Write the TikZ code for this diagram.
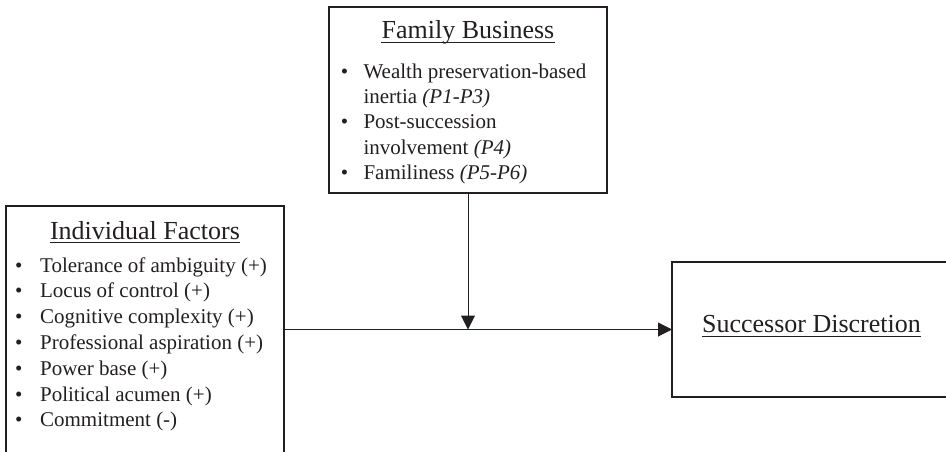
\documentclass[tikz,border=0pt]{standalone}
\usepackage{fontspec}
\setmainfont{Liberation Serif}
\usetikzlibrary{arrows.meta}
\definecolor{ink}{HTML}{231F20}
\begin{document}
\begin{tikzpicture}[x=1pt,y=1pt,
  boxshape/.style={draw=ink, line width=1.1pt, rectangle, inner sep=0pt, outer sep=0pt},
  titletext/.style={font=\fontsize{26}{30}\selectfont, inner sep=0pt, anchor=base, text=ink},
  listtext/.style={inner sep=0pt, anchor=base west, text=ink},
  conn/.style={draw=ink, line width=1pt},
  tip/.style={-{Triangle[width=14pt,length=14pt]}},
  ulline/.style={draw=ink, line width=0.9pt}]
\useasboundingbox (0,0) rectangle (946,451);
\begin{scope}
\clip (0,0) rectangle (946,451);
% boxes
\node[boxshape, minimum width=278pt, minimum height=186pt] (fb) at (468,351) {};
\node[boxshape, minimum width=278pt, minimum height=275pt] (ind) at (145,107.5) {};
\node[boxshape, minimum width=318pt, minimum height=135pt] (sd) at (831,121.5) {};
% titles
\node[titletext] (fbt) at (468,412) {Family Business};
\draw[ulline] ([yshift=-3pt]fbt.base west) -- ([yshift=-3pt]fbt.base east);
\node[titletext] (indt) at (145,212) {Individual Factors};
\draw[ulline] ([yshift=-3pt]indt.base west) -- ([yshift=-3pt]indt.base east);
\node[titletext] (sdt) at (811.5,119) {Successor Discretion};
\draw[ulline] ([yshift=-4pt]sdt.base west) -- ([yshift=-4pt]sdt.base east);
% lists
\node[listtext, font=\fontsize{21}{25.4}\selectfont] (fbl) at (340.6,373) {%
  \begin{tabular}[t]{@{}l@{\hspace{15.4pt}}l@{}}
  \textbullet & Wealth preservation-based\\
   & inertia \textit{(P1-P3)}\\
  \textbullet & Post-succession\\
   & involvement \textit{(P4)}\\
  \textbullet & Familiness \textit{(P5-P6)}
  \end{tabular}};
\node[listtext, font=\fontsize{21}{25.8}\selectfont] (indl) at (15,179) {%
  \begin{tabular}[t]{@{}l@{\hspace{17.6pt}}l@{}}
  \textbullet & Tolerance of ambiguity (+)\\
  \textbullet & Locus of control (+)\\
  \textbullet & Cognitive complexity (+)\\
  \textbullet & Professional aspiration (+)\\
  \textbullet & Power base (+)\\
  \textbullet & Political acumen (+)\\
  \textbullet & Commitment (-)
  \end{tabular}};
% connectors
\coordinate (j) at (fb.south |- sd.west);
\draw[conn, tip] (ind.east |- sd.west) -- (sd.west);
\draw[conn, tip] (fb.south) -- (j);
\end{scope}
\end{tikzpicture}
\end{document}
